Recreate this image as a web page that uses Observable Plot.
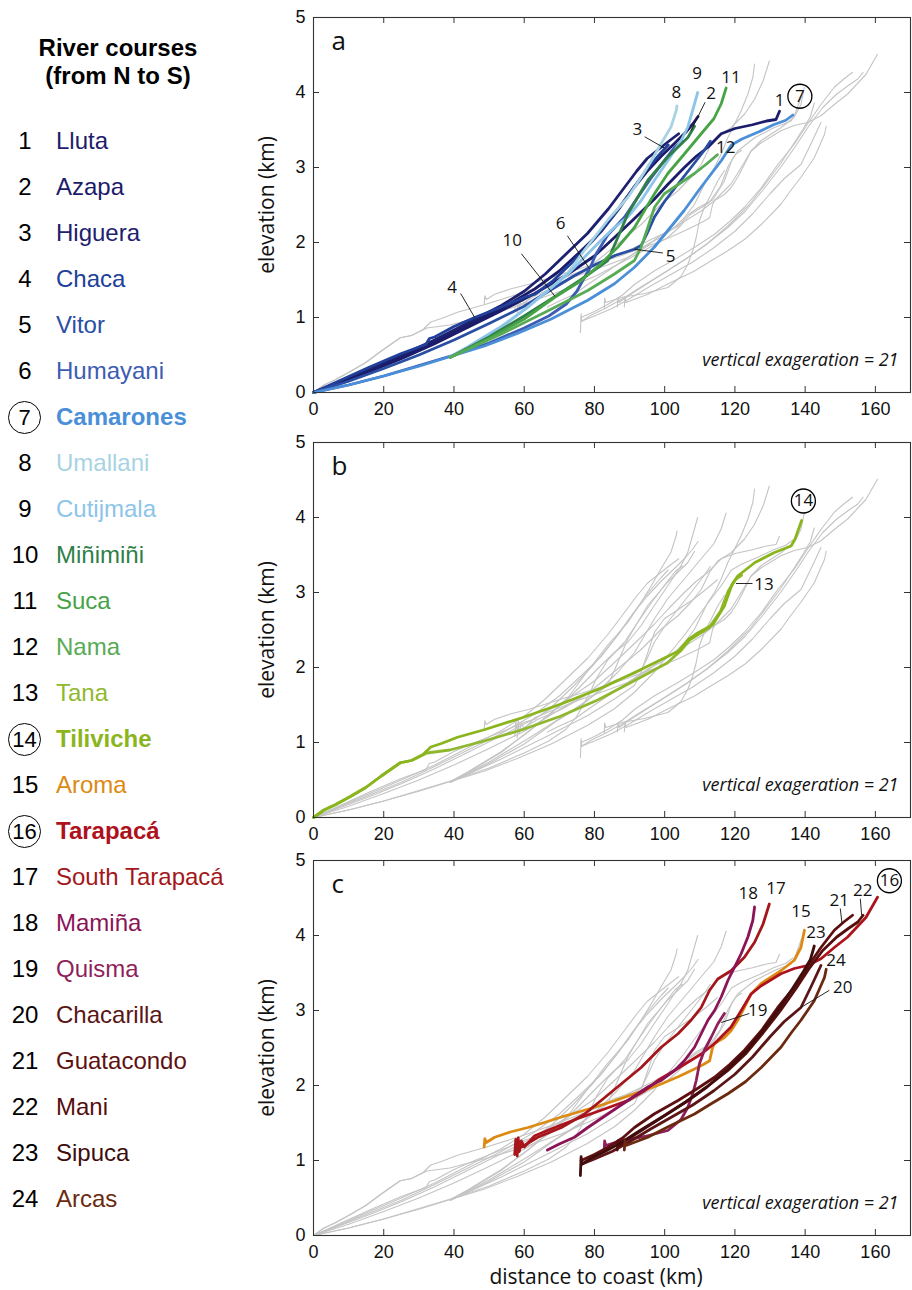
<!DOCTYPE html>
<html><head><meta charset="utf-8">
<script src="https://cdn.jsdelivr.net/npm/d3@7"></script>
<script src="https://cdn.jsdelivr.net/npm/@observablehq/plot@0.6"></script>
<style>
body{margin:0;background:#fff;width:912px;height:1290px;position:relative;overflow:hidden;font-family:"Liberation Sans",Arial,sans-serif}
.panel{position:absolute;left:250px}
.leg{position:absolute;white-space:nowrap;font-size:24px;line-height:1}
.ttl{position:absolute;left:0;width:236px;text-align:center;font-weight:bold;font-size:24px;line-height:1}
.num{position:absolute;width:30px;text-align:center;color:#000}
.circ{position:absolute;width:33px;height:33px;border:1.5px solid #000;border-radius:50%;box-sizing:border-box;text-align:center;line-height:31px;font-size:22px}
</style></head><body>
<div id="legend"></div>
<div id="pa" class="panel" style="top:0"></div>
<div id="pb" class="panel" style="top:432px"></div>
<div id="pc" class="panel" style="top:850px"></div>
<script>
// ---------- data ----------
const riverIds = [1,2,3,4,5,6,7,8,9,10,11,12,13,14,15,16,17,18,19,20,21,22,23,24];
const riverNames = ["Lluta","Azapa","Higuera","Chaca","Vitor","Humayani","Camarones","Umallani","Cutijmala","Miñimiñi","Suca","Nama","Tana","Tiliviche","Aroma","Tarapacá","South Tarapacá","Mamiña","Quisma","Chacarilla","Guatacondo","Mani","Sipuca","Arcas"];
const riverColors = ["#1c1c6c","#1b1b6a","#1d216f","#21409a","#2a4ea3","#3d5cb3","#4a8fd8","#a8d3e3","#8cc5e8","#2f7f48","#47a346","#58ab55","#8fb82e","#8ab51c","#dc8a12","#ae121c","#a3171b","#8b1457","#8f1f5b","#5a1616","#5e1010","#560d0d","#400c0c","#6b2a10"];
const circledRivers = [7,14,16];
const panelA = [1,2,3,4,5,6,7,8,9,10,11,12];
const panelB = [13,14];
const panelC = [15,16,17,18,19,20,21,22,23,24];

// profiles: [distance to coast (km), elevation (km)]
const lluta = [[0,0],[8,0.14],[16,0.28],[25,0.45],[34.5,0.65],[44,0.87],[53.5,1.09],[63,1.32],[72.5,1.58],[80,1.82],[86,2.08],[91.4,2.32],[97.1,2.58],[101,2.78],[105.6,3.0],[109,3.15],[112.3,3.27],[116.1,3.45],[120,3.52],[125,3.57],[129,3.62],[131.7,3.64],[132.7,3.75]];
const azapa = [[0,0],[8,0.15],[16,0.3],[25,0.47],[34.5,0.68],[44,0.9],[53.5,1.12],[63,1.38],[70,1.62],[76,1.88],[82,2.15],[87,2.45],[91,2.72],[95,2.95],[99,3.15],[103,3.33],[106,3.47],[108,3.58],[109.5,3.68]];
const higuera = [[0,0],[8,0.16],[16,0.32],[25,0.5],[34.5,0.7],[44,0.93],[53.5,1.16],[60,1.35],[66,1.58],[72,1.85],[78,2.12],[84,2.45],[88,2.7],[92,2.95],[95,3.12],[99,3.27],[102,3.38],[104,3.45]];
const chaca = [[0,0],[8,0.17],[16,0.34],[25,0.52],[32,0.64],[33,0.72],[34.5,0.74],[40,0.88],[45.9,1.0],[53.5,1.14],[60,1.27],[63,1.31],[68,1.48],[74,1.75],[80,2.05],[86,2.4],[91,2.72],[95,2.98],[99,3.2],[101,3.3]];
const vitor = [[0,0],[10,0.15],[20,0.32],[30,0.5],[40,0.7],[50,0.92],[60,1.15],[68,1.38],[74,1.55],[80,1.7],[86,1.83],[91.4,1.91],[93.3,1.96],[95,2.12],[97.1,2.34],[100,2.55],[103.8,2.78],[107.5,3.0],[111.3,3.23],[113,3.35]];
const humayani = [[0,0],[10,0.1],[20,0.22],[30,0.36],[40,0.5],[50,0.66],[60,0.86],[67,1.02],[72,1.18],[75,1.35],[77,1.52],[78.6,1.65],[80.5,1.85],[83.8,2.1],[88.6,2.34],[92,2.58],[96,2.85],[100,3.1],[103,3.28],[105,3.35]];
const camarones = [[0,0],[10,0.1],[20,0.22],[30,0.35],[39,0.48],[48.7,0.62],[58.2,0.79],[67.7,0.98],[78.1,1.23],[85.7,1.45],[91.4,1.67],[97.1,1.94],[100.9,2.16],[105.6,2.43],[110.4,2.74],[116.1,3.09],[119,3.3],[122,3.38],[127,3.48],[131,3.57],[134.5,3.63],[136.5,3.7]];
const umallani = [[39,0.48],[44,0.6],[53.5,0.87],[61,1.14],[66.8,1.36],[72.5,1.6],[77.2,1.9],[83.8,2.3],[89.5,2.6],[93.3,2.87],[96.2,3.09],[99,3.32],[101.8,3.54],[103.3,3.76],[103.5,3.82]];
const cutijmala = [[39,0.48],[44,0.61],[53.5,0.88],[61.1,1.14],[66.8,1.36],[72.5,1.58],[78.1,1.85],[81.9,2.03],[85.7,2.2],[89.5,2.34],[93.3,2.56],[97.1,2.83],[100.9,3.09],[104.7,3.36],[106.6,3.54],[108.5,3.85],[109.4,4.0]];
const minimini = [[39,0.47],[50,0.74],[60,1.02],[68.8,1.28],[76,1.5],[83.8,1.76],[86.5,2.05],[89.5,2.38],[95.2,2.83],[100.9,3.14],[106.6,3.4],[108.5,3.55]];
const suca = [[39,0.47],[50,0.72],[60,0.98],[68.7,1.27],[76.2,1.49],[81.9,1.72],[86.7,1.94],[91.4,2.2],[94.3,2.43],[97.1,2.65],[100.9,2.92],[105.6,3.18],[110.4,3.45],[114,3.65],[116.1,3.85],[117.5,4.06]];
const nama = [[39,0.47],[53.5,0.78],[66.8,1.09],[78.1,1.36],[85.7,1.58],[91.4,1.76],[93.3,1.94],[95.2,2.2],[97.1,2.47],[99.9,2.65],[102.8,2.74],[108.5,2.92],[112,3.05],[115,3.17]];
const tana = [[0,0],[3,0.1],[6.2,0.17],[10.5,0.28],[14.9,0.4],[19.2,0.55],[24.7,0.73],[27.9,0.76],[32.3,0.86],[38.8,0.9],[48.6,1.02],[59.4,1.17],[70.3,1.35],[81.1,1.57],[92,1.84],[100.7,2.06],[104.5,2.22],[107.2,2.37],[112.6,2.53],[115.9,2.75],[118.1,3.02],[120.3,3.18],[121.9,3.23]];
const tiliviche = [[0,0],[3,0.1],[6.2,0.17],[10.5,0.28],[14.9,0.4],[19.2,0.55],[24.7,0.73],[27.9,0.76],[31.2,0.84],[33.4,0.94],[36.6,0.99],[41,1.07],[48.6,1.17],[59.4,1.33],[70.3,1.51],[82.2,1.73],[93.1,1.97],[104,2.22],[106.7,2.37],[109.4,2.46],[113.7,2.57],[117,2.82],[119.2,3.11],[120.8,3.22],[125.7,3.4],[131.1,3.53],[136,3.62],[137.1,3.71],[139,3.96]];
const aroma = [[48.6,1.18],[48.8,1.29],[49.2,1.24],[51.6,1.31],[56,1.38],[61.1,1.44],[66,1.51],[70.6,1.58],[75,1.64],[80,1.71],[86,1.8],[91.4,1.89],[95,1.95],[99,2.02],[104,2.12],[108.5,2.22],[111,2.28],[112.8,2.33],[113.6,2.5],[114.2,2.56],[117,2.64],[118.9,2.73],[120.8,2.87],[122.7,3.04],[124.6,3.22],[127.5,3.36],[133.1,3.53],[136.9,3.67],[138.8,3.84],[139.8,4.07]];
const tarapaca = [[58,1.06],[58.3,1.3],[58.6,1.12],[59.2,1.26],[60,1.18],[63,1.33],[68.7,1.44],[75.3,1.56],[81.9,1.67],[89.5,1.8],[94.3,1.93],[98.1,2.07],[102.8,2.2],[106.6,2.31],[110.4,2.42],[114.2,2.56],[118.9,2.78],[121.8,3.0],[124.6,3.22],[127.5,3.33],[133.1,3.49],[136.9,3.56],[140.7,3.6],[144.5,3.69],[148.3,3.84],[152.1,3.98],[157.3,4.24],[160.6,4.51]];
const southTarapaca = [[57.3,1.08],[57.6,1.28],[58,1.15],[60,1.2],[63.9,1.31],[70.6,1.44],[77.2,1.62],[81.9,1.8],[87.6,2.02],[93.3,2.24],[99,2.51],[103.8,2.69],[107.5,2.87],[110.4,3.04],[112.8,3.27],[115.1,3.42],[118.9,3.53],[122.7,3.71],[125.6,3.91],[128,4.15],[129.8,4.42]];
const mamina = [[66.6,1.14],[70,1.22],[74.3,1.31],[78.1,1.44],[83.8,1.62],[89.5,1.8],[95.2,1.98],[99,2.07],[102.8,2.2],[105.6,2.33],[108.5,2.51],[110.4,2.69],[112.3,2.87],[114.2,3.0],[116.1,3.18],[118,3.4],[119.9,3.58],[121.8,3.76],[123.7,3.98],[125.1,4.2],[125.6,4.38]];
const quisma = [[82.8,1.13],[82.9,1.26],[83.2,1.2],[88,1.27],[94.3,1.32],[100.9,1.4],[103,1.48],[104.7,1.55],[106.6,1.71],[108,1.89],[109,2.07],[109.9,2.29],[111.3,2.47],[113.2,2.64],[115.1,2.82],[117,2.96]];
const chacarilla = [[76.3,0.95],[80,1.02],[85,1.12],[90,1.25],[96,1.42],[102,1.58],[108,1.74],[114,1.93],[120,2.15],[125,2.38],[130,2.65],[134,2.85],[138.8,3.04],[141.5,3.3],[143.5,3.5],[144.5,3.6]];
const guatacondo = [[76.2,1.0],[80,1.08],[84,1.18],[88,1.3],[91.4,1.44],[97,1.62],[103.8,1.8],[109,1.95],[114.2,2.11],[118.5,2.28],[122.7,2.47],[127.5,2.73],[132.2,3.04],[136.9,3.31],[140.7,3.58],[144.5,3.84],[148.3,4.07],[151,4.18],[153.5,4.27]];
const mani = [[86.5,1.14],[86.7,1.26],[87,1.2],[90,1.3],[95,1.45],[100,1.6],[106,1.78],[112,1.98],[118,2.2],[123,2.42],[128,2.7],[133,3.0],[137.5,3.3],[141,3.55],[145,3.8],[149,3.98],[152.5,4.1],[155,4.18],[156.5,4.27]];
const sipuca = [[76,0.8],[76.2,1.05],[76.4,0.95],[79,1.03],[83,1.12],[88,1.25],[93,1.4],[100,1.6],[106,1.78],[112,1.98],[118,2.22],[124,2.5],[129,2.8],[133,3.05],[136.5,3.3],[139.5,3.52],[141.5,3.68],[142.6,3.86]];
const arcas = [[88.5,1.14],[88.7,1.26],[89,1.2],[95.2,1.31],[101,1.45],[108.5,1.62],[113,1.75],[118,1.89],[123,2.05],[127.5,2.24],[133.1,2.51],[136,2.7],[138.8,2.87],[142.6,3.13],[145.5,3.44],[146,3.55]];
const profiles = [lluta,azapa,higuera,chaca,vitor,humayani,camarones,umallani,cutijmala,minimini,suca,nama,tana,tiliviche,aroma,tarapaca,southTarapaca,mamina,quisma,chacarilla,guatacondo,mani,sipuca,arcas];

const xTicks = [0,20,40,60,80,100,120,140,160];
const yTicks = [0,1,2,3,4,5];

// annotation labels: [river number text, km, elev]
const labelsA = [["8",103.3,4.0],["9",109.2,4.25],["2",113.2,3.98],["11",118.9,4.2],["1",132.7,3.89],["3",92.2,3.51],["12",117.4,3.27],["6",70.4,2.25],["10",56.6,2.03],["4",39.5,1.4],["5",101.7,1.81]];
const leadersA = [[94.3,3.41,99.9,3.26],[111.5,3.87,107.5,3.49],[72.3,2.09,78.6,1.65],[59.2,1.85,68.8,1.28],[41.9,1.32,45.9,1.0],[99.5,1.86,91.4,1.91]];
const circlesA = [["7",138.5,3.95]];
const labelsB = [["13",128.3,3.11]];
const leadersB = [[125,3.12,120.3,3.12]];
const circlesB = [["14",139.5,4.22]];
const labelsC = [["18",123.8,4.56],["17",131.7,4.62],["15",138.8,4.32],["23",143.1,4.04],["21",149.7,4.47],["22",156.4,4.6],["24",148.8,3.67],["20",150.7,3.31],["19",126.5,3.0]];
const leadersC = [[150,4.36,150.5,4.16],[155.7,4.49,156.1,4.27],[146.9,3.27,138.8,3.04],[124.1,2.96,116.1,2.84]];
const circlesC = [["16",164,4.73]];

// ---------- build ----------
const rows = profiles.flatMap((p, i) => p.map(([km, elev]) => ({id: riverIds[i], km, elev, color: riverColors[i]})));
const FW = 597, FH = 375;
const labelFont = "'Open Sans', 'Noto Sans', sans-serif";

function panel(sel, ids, letter, labels, leaders, circles, mt, mb, xlabel) {
  const bg = rows.filter(d => !ids.includes(d.id));
  const fg = rows.filter(d => ids.includes(d.id));
  const marks = [
    Plot.line(bg, {x: "km", y: "elev", z: "id", stroke: "#c4c4c4", strokeWidth: 1.1}),
    Plot.line(fg, {x: "km", y: "elev", z: "id", stroke: "color", strokeWidth: 2.8, strokeLinejoin: "round", strokeLinecap: "round"}),
    Plot.frame({stroke: "#333", strokeWidth: 1.1}),
    Plot.tickX(xTicks, {x: d => d, insetTop: FH - 6, stroke: "#333"}),
    Plot.tickX(xTicks, {x: d => d, insetBottom: FH - 6, stroke: "#333"}),
    Plot.tickY(yTicks, {y: d => d, insetRight: FW - 6, stroke: "#333"}),
    Plot.tickY(yTicks, {y: d => d, insetLeft: FW - 6, stroke: "#333"}),
    Plot.axisX({ticks: xTicks, tickSize: 0, tickPadding: 10, tickFormat: d => String(d), label: null, fontSize: 18}),
    Plot.axisY({ticks: yTicks, tickSize: 0, tickPadding: 8, tickFormat: d => String(d), label: null, fontSize: 18}),
    Plot.link(leaders, {x1: d => d[0], y1: d => d[1], x2: d => d[2], y2: d => d[3], stroke: "#111", strokeWidth: 0.9}),
    Plot.text(labels, {x: d => d[1], y: d => d[2], text: d => d[0], fontSize: 17, fontFamily: labelFont, fill: "#111"}),
    Plot.dot(circles, {x: d => d[1], y: d => d[2], r: 12, stroke: "#000", strokeWidth: 1.3, fill: "none"}),
    Plot.text(circles, {x: d => d[1], y: d => d[2], text: d => d[0], fontSize: 17, fontFamily: labelFont, fill: "#111"}),
    Plot.text([letter], {frameAnchor: "top-left", textAnchor: "start", lineAnchor: "top", dx: 18, dy: 14, text: d => d, fontSize: 26, fontFamily: labelFont, fill: "#111"}),
    Plot.text(["vertical exageration = 21"], {frameAnchor: "bottom-right", textAnchor: "end", lineAnchor: "middle", dx: -12, dy: -32, text: d => d, fontSize: 18, fontStyle: "italic", fontFamily: labelFont, fill: "#111"}),
    Plot.text(["elevation (km)"], {frameAnchor: "left", rotate: -90, textAnchor: "middle", lineAnchor: "middle", dx: -46, text: d => d, fontSize: 21, fontFamily: labelFont, fill: "#111"})
  ];
  if (xlabel) marks.push(Plot.text([xlabel], {frameAnchor: "bottom", textAnchor: "middle", lineAnchor: "middle", dx: -16, dy: 42, text: d => d, fontSize: 21, fontFamily: labelFont, fill: "#111"}));
  const chart = Plot.plot({
    width: 662, height: mt + FH + mb,
    marginLeft: 63, marginRight: 2, marginTop: mt, marginBottom: mb,
    x: {domain: [0, 170]},
    y: {domain: [0, 5]},
    color: {type: "identity"},
    style: {fontFamily: "'Liberation Sans', Arial, sans-serif", fontSize: "18px", color: "#111", background: "transparent"},
    marks
  });
  document.querySelector(sel).appendChild(chart);
}

panel("#pa", panelA, "a", labelsA, leadersA, circlesA, 17, 33, null);
panel("#pb", panelB, "b", labelsB, leadersB, circlesB, 10, 33, null);
panel("#pc", panelC, "c", labelsC, leadersC, circlesC, 10, 55, "distance to coast (km)");

// ---------- legend ----------
const legend = document.getElementById("legend");
const t1 = document.createElement("div"); t1.className = "ttl"; t1.style.top = "36px"; t1.textContent = "River courses"; legend.appendChild(t1);
const t2 = document.createElement("div"); t2.className = "ttl"; t2.style.top = "64px"; t2.textContent = "(from N to S)"; legend.appendChild(t2);
riverIds.forEach((id, i) => {
  const cy = 141 + i * 46;
  const circ = circledRivers.includes(id);
  const n = document.createElement("div");
  if (circ) {
    n.className = "circ"; n.style.left = "8px"; n.style.top = (cy - 16) + "px";
  } else {
    n.className = "num leg"; n.style.left = "10px"; n.style.top = (cy - 12) + "px";
  }
  n.textContent = id;
  legend.appendChild(n);
  const nm = document.createElement("div");
  nm.className = "leg";
  nm.style.left = "56px"; nm.style.top = (cy - 12) + "px";
  nm.style.color = riverColors[i];
  if (circ) nm.style.fontWeight = "bold";
  nm.textContent = riverNames[i];
  legend.appendChild(nm);
});
</script>
</body></html>
